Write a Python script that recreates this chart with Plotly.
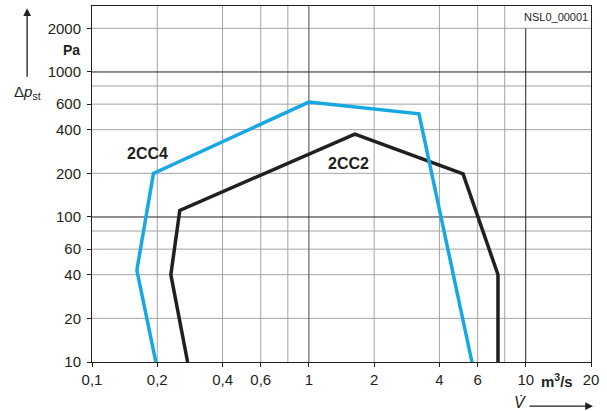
import math
import plotly.graph_objects as go

# ---- data ----
cc4_flow = [0.197, 0.161, 0.192, 1.0, 3.22, 5.65]
cc4_dp = [10, 43, 200, 620, 515, 10]
cc2_flow = [0.276, 0.231, 0.254, 1.63, 5.14, 7.45, 7.45]
cc2_dp = [10, 40, 111, 373, 198, 40, 10]

x_tickvals = [0.1, 0.2, 0.4, 0.6, 1, 2, 4, 6, 10, 20]
x_ticktext = ["0,1", "0,2", "0,4", "0,6", "1", "2", "4", "6", "10", "20"]
y_tickvals = [10, 20, 40, 60, 100, 200, 400, 600, 1000, 2000]
y_ticktext = ["10", "20", "40", "60", "100", "200", "400", "600", "1000", "2000"]

x_grid_gray = [0.2, 0.4, 0.6, 0.8, 2, 4, 6, 8]
x_grid_dark = [1]
x_grid_black = [10]
y_grid_gray = [20, 40, 60, 80, 200, 400, 600, 800, 2000]
y_grid_black = [100, 1000]

X_MIN, X_MAX = 0.1, 20
Y_MIN, Y_MAX = 10, 10 ** 3.455

INK = "#231F20"
BLUE = "#17A8E3"
GRAY = "#A3A3A3"
FONT = "Liberation Sans, Arial, sans-serif"


def vlines(xs, y0, y1):
    px, py = [], []
    for v in xs:
        px += [v, v, None]
        py += [y0, y1, None]
    return px, py


def hlines(ys, x0, x1):
    px, py = [], []
    for v in ys:
        px += [x0, x1, None]
        py += [v, v, None]
    return px, py


fig = go.Figure()

grid_specs = [
    (vlines(x_grid_gray, Y_MIN, Y_MAX), GRAY, 1),
    (hlines(y_grid_gray, X_MIN, X_MAX), GRAY, 1),
    (vlines(x_grid_dark, Y_MIN, Y_MAX), "#666666", 1.2),
    (vlines(x_grid_black, Y_MIN, 2000), INK, 1),
    (hlines(y_grid_black, X_MIN, X_MAX), INK, 1),
]
for (gx, gy), col, w in grid_specs:
    fig.add_trace(go.Scatter(x=gx, y=gy, mode="lines", line=dict(color=col, width=w),
                             hoverinfo="skip", showlegend=False))

fig.add_trace(go.Scatter(x=cc2_flow, y=cc2_dp, mode="lines", name="2CC2",
                         line=dict(color=INK, width=3.5), showlegend=False))
fig.add_trace(go.Scatter(x=cc4_flow, y=cc4_dp, mode="lines", name="2CC4",
                         line=dict(color=BLUE, width=3.5), showlegend=False))

axis_common = dict(
    type="log", showgrid=False, zeroline=False,
    showline=True, linecolor=INK, linewidth=1, mirror=True,
    ticks="outside", ticklen=4, tickcolor=INK, tickwidth=1,
    tickfont=dict(family=FONT, size=15, color=INK),
)

fig.update_layout(
    width=607, height=411,
    margin=dict(l=92, r=16, t=6, b=49),
    paper_bgcolor="white", plot_bgcolor="white",
    font=dict(family=FONT, color=INK),
    xaxis=dict(range=[math.log10(X_MIN), math.log10(X_MAX)],
               tickvals=x_tickvals, ticktext=x_ticktext, **axis_common),
    yaxis=dict(range=[math.log10(Y_MIN), math.log10(Y_MAX)],
               tickvals=y_tickvals, ticktext=y_ticktext, ticklabelstandoff=3,
               **axis_common),
)

ann = [
    dict(x=math.log10(0.181), y=math.log10(275), xref="x", yref="y", text="<b>2CC4</b>",
         showarrow=False, font=dict(size=16, color=INK, family=FONT)),
    dict(x=math.log10(1.53), y=math.log10(232), xref="x", yref="y", text="<b>2CC2</b>",
         showarrow=False, font=dict(size=16, color=INK, family=FONT)),
    dict(x=0.998, y=0.968, xref="paper", yref="paper", text="NSL0_00001",
         showarrow=False, xanchor="right", yanchor="middle",
         font=dict(size=11, color=INK, family=FONT)),
    # unit labels
    dict(x=-0.02, y=0.876, xref="paper", yref="paper", text="<b>Pa</b>",
         showarrow=False, xanchor="right", yanchor="middle",
         font=dict(size=14, color=INK, family=FONT)),
    dict(x=0.932, y=-0.053, xref="paper", yref="paper", text="<b>m<sup>3</sup>/s</b>",
         showarrow=False, xanchor="center", yanchor="middle",
         font=dict(size=15, color=INK, family=FONT)),
    # axis titles
    dict(x=-0.13, y=0.758, xref="paper", yref="paper", text="Δ<i>p</i><sub>st</sub>",
         showarrow=False, xanchor="center", yanchor="middle",
         font=dict(size=15, color=INK, family=FONT)),
    dict(x=0.858, y=-0.115, xref="paper", yref="paper", text="<i>V̇</i>",
         showarrow=False, xanchor="center", yanchor="middle",
         font=dict(size=16, color=INK, family=FONT)),
    # arrows
    dict(x=-0.13, y=0.994, xref="paper", yref="paper", text="", showarrow=True,
         ax=0, ay=70, arrowhead=2, arrowsize=1.2, arrowwidth=1.3, arrowcolor=INK),
    dict(x=1.004, y=-0.124, xref="paper", yref="paper", text="", showarrow=True,
         ax=-65, ay=0, arrowhead=2, arrowsize=1.2, arrowwidth=1.3, arrowcolor=INK),
]
fig.update_layout(annotations=ann)

fig.write_html("out.html", config={"displayModeBar": False},
               post_script="document.body.style.margin='0';")
